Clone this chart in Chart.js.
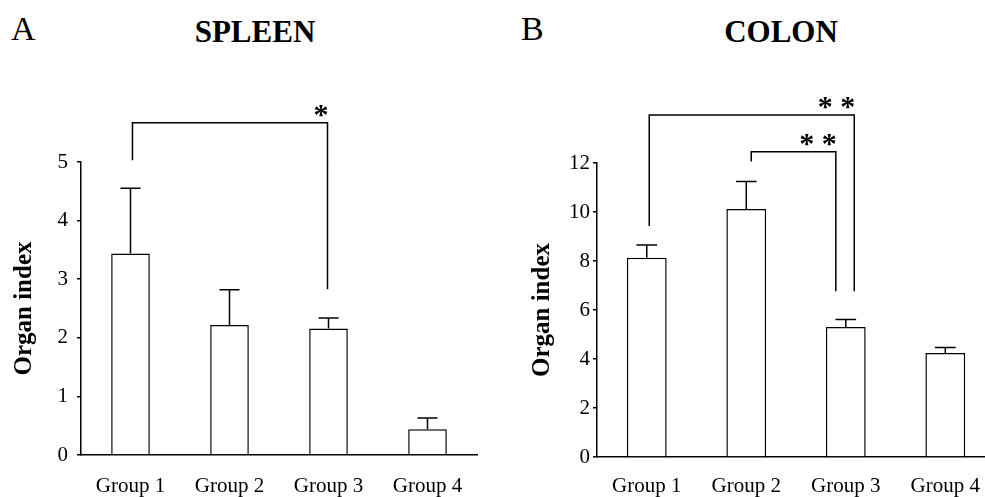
<!DOCTYPE html>
<html>
<head>
<meta charset="utf-8">
<script src="https://cdn.jsdelivr.net/npm/chart.js@4"></script>
<style>
    html, body { margin: 0; padding: 0; background: #fff; overflow: hidden; }
    body { width: 985px; height: 497px; position: relative; font-family: 'Liberation Serif', serif; color: #000; }
    .panel { position: absolute; top: 0; height: 497px; }
    .letter { position: absolute; font-size: 34px; line-height: 1; }
    .title { position: absolute; font-size: 31px; font-weight: bold; line-height: 1; transform: translateX(-50%); }
</style>
</head>
<body>

<div class="letter" style="left:11px; top:12px;">A</div>
<div class="title" style="left:255px; top:16px;">SPLEEN</div>
<div class="letter" style="left:521px; top:12px;">B</div>
<div class="title" style="left:781px; top:16px;">COLON</div>

<div class="panel" style="left:0; width:490px;"><canvas id="spleenChart" width="490" height="497"></canvas></div>
<div class="panel" style="left:490px; width:507px;"><canvas id="colonChart" width="507" height="497"></canvas></div>

<script>
// --- Data ---
const groups = ['Group 1', 'Group 2', 'Group 3', 'Group 4'];

const spleenMean = [3.44, 2.22, 2.16, 0.44];
const spleenErr = [1.11, 0.60, 0.18, 0.19];
const spleenTicks = [0, 1, 2, 3, 4, 5];

const colonMean = [8.13, 10.12, 5.31, 4.25];
const colonErr = [0.52, 1.12, 0.30, 0.22];
const colonTicks = [0, 2, 4, 6, 8, 10, 12];

// significance brackets: category positions, bracket level, leg ends (data units)
const spleenBrackets = [
    { from: 0.02, to: 1.99, level: 5.67, leftEnd: 5.03, rightEnd: 2.83, label: '*' }
];
const colonBrackets = [
    { from: 0.025, to: 2.085, level: 13.96, leftEnd: 9.43, rightEnd: 6.77, label: '* *' },
    { from: 1.05, to: 1.9, level: 12.46, leftEnd: 12.06, rightEnd: 6.77, label: '* *' }
];

const serif = "'Liberation Serif', 'Times New Roman', serif";

// upper error bars on each bar
const errorBarPlugin = {
    id: 'errorBars',
    afterDatasetsDraw(chart, args, opts) {
        const { ctx, scales: { y } } = chart;
        const meta = chart.getDatasetMeta(0);
        ctx.save();
        ctx.strokeStyle = '#000';
        ctx.lineWidth = 1.5;
        meta.data.forEach((bar, i) => {
            const v = chart.data.datasets[0].data[i];
            const top = y.getPixelForValue(v);
            const end = y.getPixelForValue(v + opts.errors[i]);
            const half = bar.width * 0.26;
            ctx.beginPath();
            ctx.moveTo(bar.x, top);
            ctx.lineTo(bar.x, end);
            ctx.moveTo(bar.x - half, end);
            ctx.lineTo(bar.x + half, end);
            ctx.stroke();
        });
        ctx.restore();
    }
};

// brackets with asterisks above the bars
const bracketPlugin = {
    id: 'brackets',
    afterDraw(chart, args, opts) {
        const { ctx, scales: { x, y } } = chart;
        ctx.save();
        ctx.strokeStyle = '#000';
        ctx.fillStyle = '#000';
        ctx.lineWidth = 1.5;
        ctx.font = 'bold 30px ' + serif;
        ctx.textAlign = 'right';
        ctx.textBaseline = 'alphabetic';
        opts.items.forEach(b => {
            const x1 = x.getPixelForValue(b.from);
            const x2 = x.getPixelForValue(b.to);
            const yl = y.getPixelForValue(b.level);
            ctx.beginPath();
            ctx.moveTo(x1, y.getPixelForValue(b.leftEnd));
            ctx.lineTo(x1, yl);
            ctx.lineTo(x2, yl);
            ctx.lineTo(x2, y.getPixelForValue(b.rightEnd));
            ctx.stroke();
            ctx.fillText(b.label, x2 + 1, yl + 1);
        });
        ctx.restore();
    }
};

function makeChart(id, values, errors, ticks, brackets, layout) {
    return new Chart(document.getElementById(id), {
        type: 'bar',
        data: {
            labels: groups,
            datasets: [{
                data: values,
                backgroundColor: '#fff',
                borderColor: '#000',
                borderWidth: 1.5,
                barPercentage: layout.barPct,
                categoryPercentage: 1
            }]
        },
        options: {
            responsive: false,
            animation: false,
            devicePixelRatio: 1,
            layout: { padding: layout.padding },
            plugins: {
                legend: { display: false },
                tooltip: { enabled: false },
                errorBars: { errors: errors },
                brackets: { items: brackets }
            },
            scales: {
                x: {
                    grid: { display: false, drawTicks: false },
                    border: { display: true, color: '#000', width: 1.5 },
                    ticks: { color: '#000', font: { family: serif, size: 21 }, padding: layout.xPad, maxRotation: 0 },
                    afterFit: s => { s.height = layout.xHeight; }
                },
                y: {
                    min: ticks[0],
                    max: ticks[ticks.length - 1],
                    afterBuildTicks: s => { s.ticks = ticks.map(v => ({ value: v })); },
                    grid: { drawOnChartArea: false, drawTicks: true, tickLength: 4, color: '#000', lineWidth: 1.5 },
                    border: { display: true, color: '#000', width: 1.5 },
                    ticks: { color: '#000', font: { family: serif, size: 21 }, padding: layout.tickPad },
                    title: {
                        display: true,
                        text: 'Organ index',
                        color: '#000',
                        font: { family: serif, size: 25, weight: 'bold' },
                        padding: { top: layout.titlePad, bottom: 0 }
                    },
                    afterFit: s => { s.width = layout.yWidth; }
                }
            }
        },
        plugins: [errorBarPlugin, bracketPlugin]
    });
}

makeChart('spleenChart', spleenMean, spleenErr, spleenTicks, spleenBrackets, {
    padding: { top: 162, right: 13, bottom: 0, left: 0 },
    xHeight: 42, xPad: 19, yWidth: 81, tickPad: 9, titlePad: 10, barPct: 0.39
});

makeChart('colonChart', colonMean, colonErr, colonTicks, colonBrackets, {
    padding: { top: 163, right: 0, bottom: 0, left: 0 },
    xHeight: 40, xPad: 17, yWidth: 107, tickPad: 3, titlePad: 38, barPct: 0.4
});
</script>
</body>
</html>
